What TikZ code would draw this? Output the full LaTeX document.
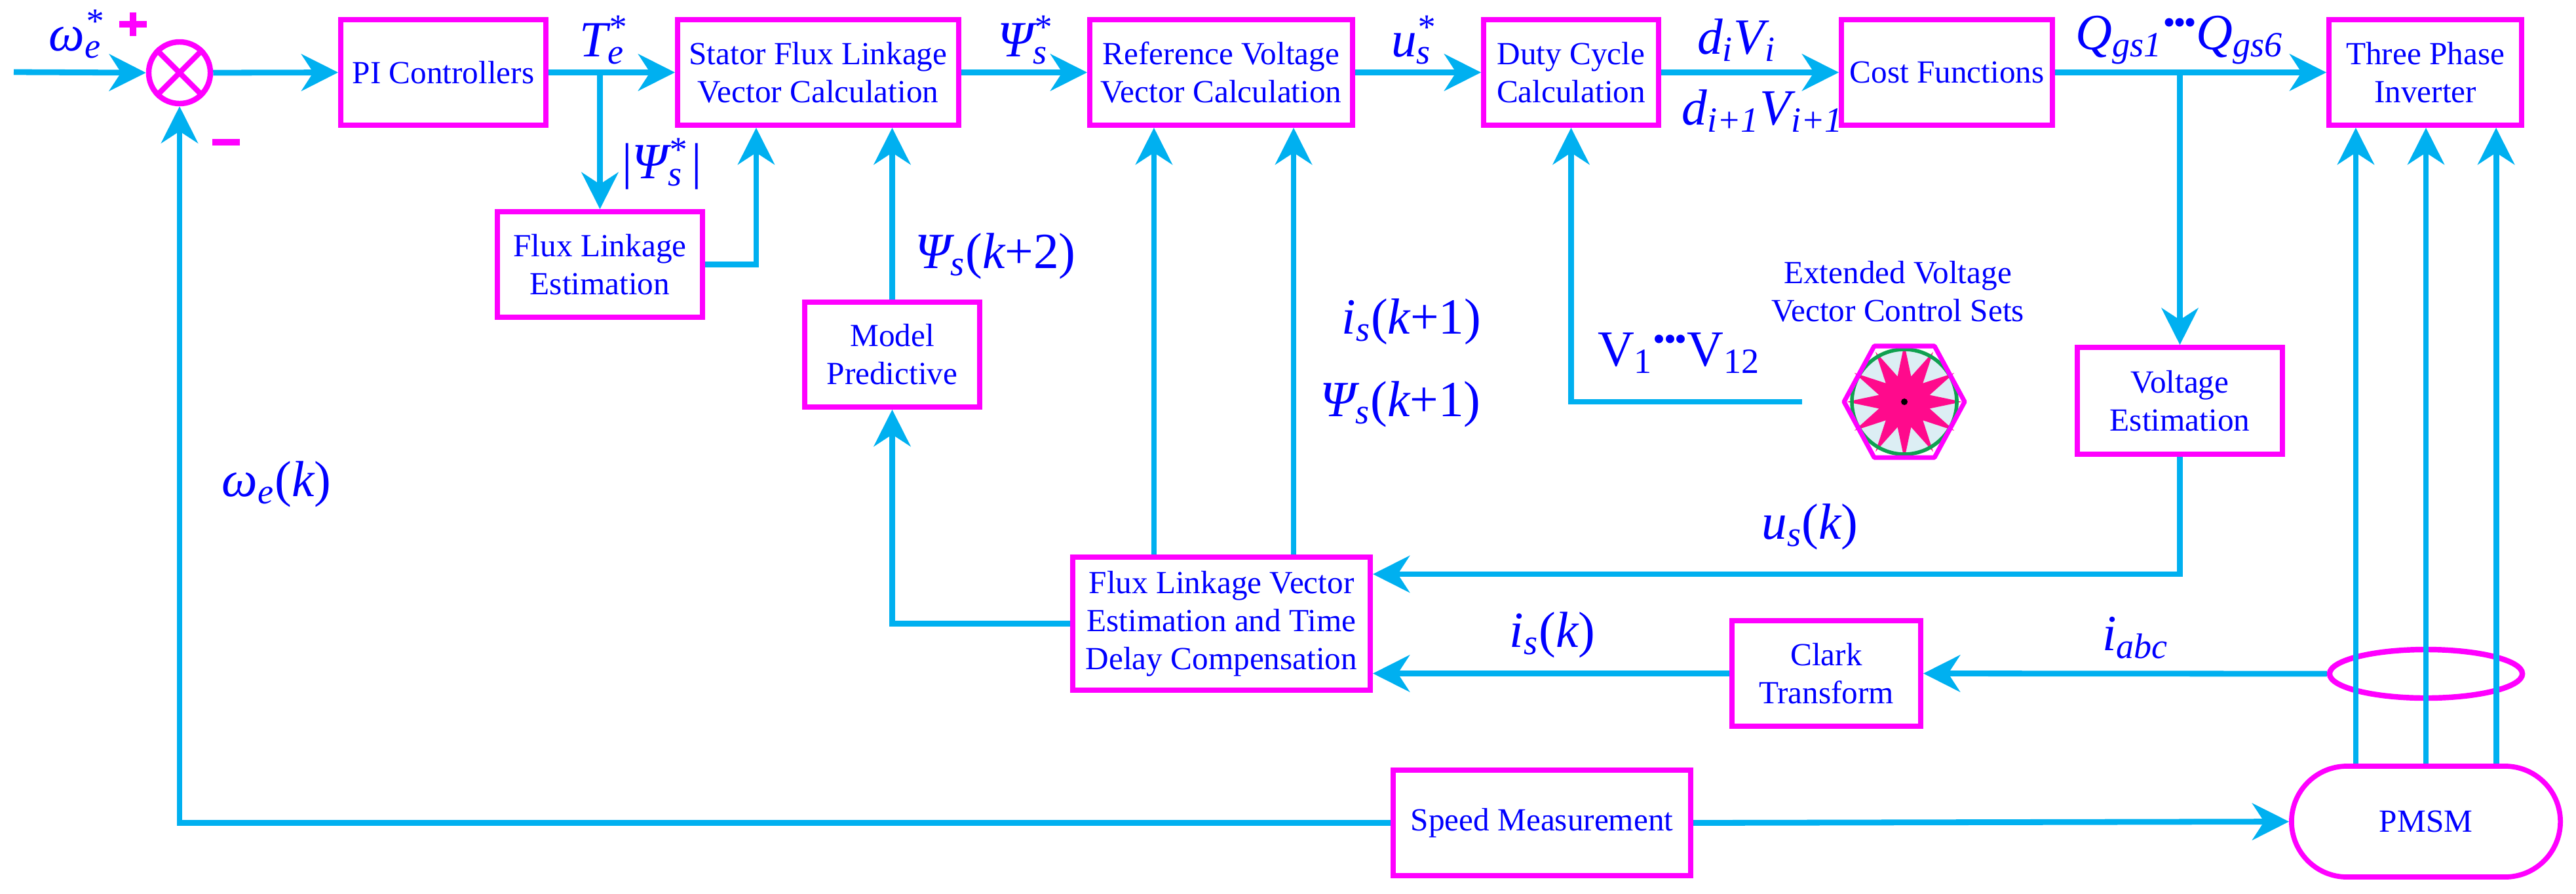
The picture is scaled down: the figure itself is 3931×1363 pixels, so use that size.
\documentclass[tikz,border=0pt]{standalone}
\usepackage{fontspec}
\usepackage{graphicx}
\setmainfont{Liberation Serif}
\usetikzlibrary{arrows.meta,shapes.misc,shapes.geometric}
\definecolor{lblue}{HTML}{00B0F0}
\definecolor{mag}{HTML}{FF00FF}
\definecolor{tblue}{HTML}{0000FF}
\definecolor{spink}{HTML}{FF0A8C}
\definecolor{cgreen}{HTML}{10A050}
\definecolor{cfill}{HTML}{DCEEF4}
\newcommand\SupSub[3]{#1\rlap{\textsuperscript{#2}}\textsubscript{#3}}
\newcommand\Sb[2]{#1\textsubscript{#2}}
\newcommand\Dots{\raisebox{0.3em}{\scalebox{0.7}{\textbullet\hspace{-0.05em}\textbullet\hspace{-0.05em}\textbullet}}}
\begin{document}
\begin{tikzpicture}[x=0.01cm,y=-0.01cm,
  box/.style={draw=mag,line width=2.2pt,text=tblue,align=center,inner sep=0pt,
    font=\fontsize{14}{16.5}\selectfont},
  lab/.style={text=tblue,inner sep=0pt,font=\fontsize{22}{24}\selectfont},
  ln/.style={draw=lblue,line width=2.5pt},
  arr/.style={ln,-{Stealth[length=0.56cm,width=0.56cm,inset=0.18cm]}},
  sgn/.style={draw=mag,line width=3pt}]
\useasboundingbox (0,0) rectangle (3931,1363);
% boxes
\node[box,minimum width=3.13cm,minimum height=1.61cm] (PI) at (676.5,110.5) {PI Controllers};
\node[box,minimum width=4.29cm,minimum height=1.61cm] (Stator) at (1248.5,110.5) {Stator Flux Linkage\\Vector Calculation};
\node[box,minimum width=4.01cm,minimum height=1.61cm] (RefV) at (1863.5,110.5) {Reference Voltage\\Vector Calculation};
\node[box,minimum width=2.67cm,minimum height=1.61cm] (Duty) at (2397.5,110.5) {Duty Cycle\\Calculation};
\node[box,minimum width=3.22cm,minimum height=1.61cm] (Cost) at (2971,110.5) {Cost Functions};
\node[box,minimum width=2.94cm,minimum height=1.61cm] (Inv) at (3701,110.5) {Three Phase\\Inverter};
\node[box,minimum width=3.13cm,minimum height=1.61cm] (FLEst) at (915.5,403.5) {Flux Linkage\\Estimation};
\node[box,minimum width=2.67cm,minimum height=1.60cm] (ModelP) at (1361.5,541) {Model\\Predictive};
\node[box,minimum width=4.54cm,minimum height=2.03cm] (FLVE) at (1864,951.5) {Flux Linkage Vector\\Estimation and Time\\Delay Compensation};
\node[box,minimum width=3.13cm,minimum height=1.63cm] (VE) at (3326.5,611.5) {Voltage\\Estimation};
\node[box,minimum width=2.88cm,minimum height=1.61cm] (Clark) at (2787,1027.5) {Clark\\Transform};
\node[box,minimum width=4.54cm,minimum height=1.61cm] (Speed) at (2353,1255.5) {Speed Measurement};
\node[box,rounded rectangle,minimum width=4.10cm,minimum height=1.69cm] (PMSM) at (3702,1253.5) {PMSM};
% summing junction
\node[circle,draw=mag,line width=2.4pt,minimum size=0.94cm,inner sep=0pt] (sum) at (274,111) {};
\draw[mag,line width=2.4pt] (sum.north east)--(sum.south west) (sum.north west)--(sum.south east);
\draw[sgn] (182,37)--(224,37) (203,19)--(203,55);
\draw[sgn] (324,217)--(366,217);
% ring
\node[ellipse,draw=mag,line width=2.4pt,minimum width=2.94cm,minimum height=0.74cm,inner sep=0pt] (ring) at (3702,1028) {};
% coordinates
\coordinate (in) at (21,110);
\coordinate (vend) at (2750,613);
% connectors
\draw[arr] (in) -- (sum.west);
\draw[arr] (sum.east) -- (PI.west);
\draw[arr] (PI.east) -- (Stator.west);
\draw[arr] (Stator.east) -- (RefV.west);
\draw[arr] (RefV.east) -- (Duty.west);
\draw[arr] (Duty.east) -- (Cost.west);
\draw[arr] (Cost.east) -- (Inv.west);
\draw[arr] (Stator.west -| FLEst.north) -- (FLEst.north);
\draw[arr] (FLEst.east) -| ([xshift=-0.945cm]Stator.south);
\draw[arr] (ModelP.north) -- (ModelP.north |- Stator.south);
\draw[arr] (FLVE.west) -| (ModelP.south);
\draw[arr] ([xshift=-1.03cm]FLVE.north) -- ([xshift=-1.03cm]FLVE.north |- RefV.south);
\draw[arr] ([xshift=1.10cm]FLVE.north) -- ([xshift=1.10cm]FLVE.north |- RefV.south);
\draw[arr] (vend) -| (Duty.south);
\draw[arr] (Cost.east -| VE.north) -- (VE.north);
\draw[arr] (VE.south) |- ([yshift=0.755cm]FLVE.east);
\draw[arr] (ring.west) -- (Clark.east);
\draw[arr] (Clark.west) -- (Clark.west -| FLVE.east);
\foreach \s in {-1.07,0,1.07}
  \draw[arr] ([xshift=\s cm]PMSM.north) -- ([xshift=\s cm]PMSM.north |- Inv.south);
\draw[arr] (Speed.west) -| (sum.south);
\draw[arr] (Speed.east) -- (PMSM.west);
% voltage vector set symbol
\begin{scope}[shift={(2906,613)}]
  \fill[cfill] (0,0) circle (80);
  \fill[spink] (0:88) \foreach \i in {1,...,23} {-- ({\i*15}:{ifthenelse(mod(\i,2)==0,88,40)})} -- cycle;
  \draw[cgreen,line width=1.6pt] (0,0) circle (80);
  \draw[mag,line width=2pt,line join=round] (92,0)--(46,85)--(-46,85)--(-92,0)--(-46,-85)--(46,-85)--cycle;
  \fill[black] (0,0) circle (5);
\end{scope}
\node[box,draw=none] (evtext) at (2896,445) {Extended Voltage\\Vector Control Sets};
% labels
\node[lab] (l1) at (115,52) {\itshape\SupSub{ω}{*}{e}};
\node[lab] (l2) at (919,61) {\itshape\SupSub{T}{*}{e}};
\node[lab] (l3) at (1010,250) {|{\itshape\SupSub{Ψ}{*}{s}}\,|};
\node[lab] (l4) at (1561,61) {\itshape\SupSub{Ψ}{*}{s}};
\node[lab] (l5) at (2154,61) {\itshape\SupSub{u}{*}{s}};
\node[lab] (l6) at (2650,61) {\itshape\Sb{d}{i}\Sb{V}{i}};
\node[lab] (l7) at (2690,169) {\itshape\Sb{d}{i+1}\Sb{V}{i+1}};
\node[lab] (l8) at (3326,61) {\itshape\Sb{Q}{gs1}\Dots\Sb{Q}{gs6}};
\node[lab] (l9) at (1519,391) {{\itshape\Sb{Ψ}{s}}({\itshape k}+2)};
\node[lab] (l10) at (2154,491) {{\itshape\Sb{i}{s}}({\itshape k}+1)};
\node[lab] (l11) at (2137,617) {{\itshape\Sb{Ψ}{s}}({\itshape k}+1)};
\node[lab] (l12) at (2562,539) {\Sb{V}{1}\Dots\Sb{V}{12}};
\node[lab] (l13) at (2762,804) {{\itshape\Sb{u}{s}}({\itshape k})};
\node[lab] (l14) at (2369,969) {{\itshape\Sb{i}{s}}({\itshape k})};
\node[lab] (l15) at (3259,973) {\itshape\Sb{i}{abc}};
\node[lab] (l16) at (422,739) {{\itshape\Sb{ω}{e}}({\itshape k})};
\end{tikzpicture}
\end{document}
